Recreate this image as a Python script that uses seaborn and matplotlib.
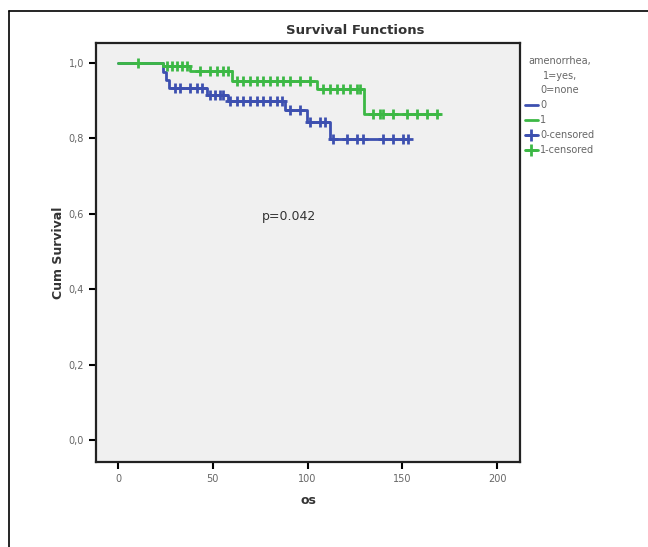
import numpy as np
import pandas as pd
import seaborn as sns
import matplotlib.pyplot as plt
from matplotlib.lines import Line2D

# step curves (time, cumulative survival)
blue_time = [0, 24, 25.5, 27, 47, 58, 88, 99.5, 112, 153]
blue_surv = [1.0, 0.975, 0.955, 0.934, 0.915, 0.899, 0.875, 0.844, 0.798, 0.798]
green_time = [0, 24, 38, 60, 105, 130, 170]
green_surv = [1.0, 0.992, 0.98, 0.952, 0.931, 0.865, 0.865]

# censored times
blue_cens = [30, 32.7, 38, 41.5, 44.2, 48.5, 51.2, 53.8, 55.6, 59.1, 62.6, 66.1,
             69.7, 73.2, 76.7, 80.2, 83.7, 86.4, 90.8, 96, 101.3, 106.6, 109.2,
             113.6, 120.7, 126, 129.4, 140, 145.3, 150.6, 153]
green_cens = [10.6, 25.7, 28.3, 31, 33.6, 36.2, 43.3, 48.5, 52.1, 55.6, 58.2,
              62.6, 66.1, 69.7, 73.2, 76.7, 80.2, 83.7, 87.2, 90.8, 96, 101.3,
              108.4, 111.9, 115.4, 118.9, 122.4, 126, 127.7, 134.7, 138.3, 140,
              145.3, 152.3, 157.6, 162.9, 168.2]

groups = ["0", "1"]
colors = {"0": "#3d50b0", "1": "#3cb845"}


def surv_at(times, steps_t, steps_s):
    idx = np.searchsorted(steps_t, times, side="right") - 1
    return np.array(steps_s)[idx]


curves = pd.concat([
    pd.DataFrame({"os": blue_time, "surv": blue_surv, "grp": "0"}),
    pd.DataFrame({"os": green_time, "surv": green_surv, "grp": "1"}),
])
cens = pd.concat([
    pd.DataFrame({"os": blue_cens, "surv": surv_at(blue_cens, blue_time, blue_surv), "grp": "0"}),
    pd.DataFrame({"os": green_cens, "surv": surv_at(green_cens, green_time, green_surv), "grp": "1"}),
])

sns.set_style("ticks")
fig = plt.figure(figsize=(6.48, 5.47), dpi=100)
ax = fig.add_axes([96 / 648, 1 - 462 / 547, 424 / 648, 419 / 547])
ax.set_facecolor("#f0f0f0")

for g in groups:
    d = curves[curves["grp"] == g]
    sns.lineplot(data=d, x="os", y="surv", color=colors[g], drawstyle="steps-post",
                 estimator=None, linewidth=2, ax=ax, legend=False)
    c = cens[cens["grp"] == g]
    sns.scatterplot(data=c, x="os", y="surv", color=colors[g], marker="+", s=50,
                    linewidth=2, ax=ax, legend=False, zorder=3)

ax.set_xlim(-11.6, 212.1)
ax.set_ylim(-0.058, 1.053)
ax.set_xticks([0, 50, 100, 150, 200])
ax.set_xticklabels(["0", "50", "100", "150", "200"])
ax.set_yticks([0, 0.2, 0.4, 0.6, 0.8, 1.0])
ax.set_yticklabels(["0,0", "0,2", "0,4", "0,6", "0,8", "1,0"])
ax.tick_params(length=5, width=1.5, labelsize=7, colors="black", labelcolor="#666666")
for sp in ax.spines.values():
    sp.set_linewidth(1.6)
    sp.set_color("#222222")

ax.set_xlabel("os", fontsize=9, fontweight="bold", color="#333333", labelpad=7)
ax.set_ylabel("Cum Survival", fontsize=9, fontweight="bold", color="#333333", labelpad=3)
ax.text(90, 0.594, "p=0.042", fontsize=9, color="#333333", ha="center", va="center")

fig.text(355 / 648, 1 - 30 / 547, "Survival Functions", fontsize=9.5, fontweight="bold",
         color="#333333", ha="center", va="center")

handles = [
    Line2D([], [], color=colors["0"], lw=2),
    Line2D([], [], color=colors["1"], lw=2),
    Line2D([], [], color=colors["0"], lw=2, marker="+", markersize=9, mew=2),
    Line2D([], [], color=colors["1"], lw=2, marker="+", markersize=9, mew=2),
]
leg = fig.legend(handles, ["0", "1", "0-censored", "1-censored"],
                 title="amenorrhea,\n1=yes,\n0=none", loc="upper left",
                 bbox_to_anchor=(521 / 648, 1 - 52 / 547), frameon=False,
                 fontsize=7, title_fontsize=7, handlelength=1.3,
                 handletextpad=0.3, labelspacing=0.5, borderaxespad=0)
leg.get_title().set_multialignment("center")
leg.get_title().set_linespacing(1.6)
leg._legend_box.align = "center"
for t in leg.get_texts():
    t.set_color("#666666")
leg.get_title().set_color("#666666")

# outer frame of the picture
fig.add_artist(Line2D([9 / 648, 9 / 648], [0, 1 - 11 / 547], color="black", lw=1.2))
fig.add_artist(Line2D([9 / 648, 1], [1 - 11 / 547, 1 - 11 / 547], color="black", lw=1.2))

fig.savefig("out.png", dpi=100)
